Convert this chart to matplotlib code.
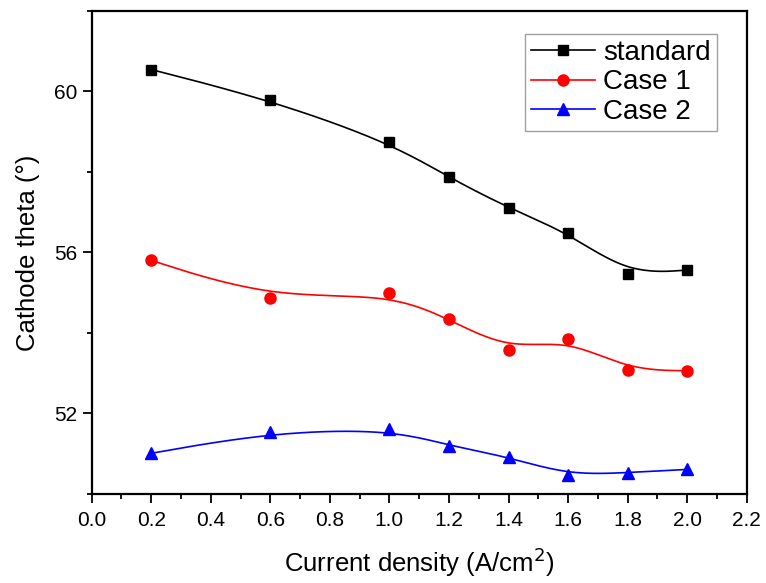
import matplotlib
matplotlib.use("Agg")
import matplotlib.pyplot as plt
import numpy as np

plt.rcParams['font.family'] = ['Liberation Sans', 'DejaVu Sans']

current = [0.2, 0.6, 1.0, 1.2, 1.4, 1.6, 1.8, 2.0]
standard = [60.54, 59.78, 58.73, 57.86, 57.10, 56.49, 55.46, 55.56]
case1 = [55.80, 54.86, 54.98, 54.34, 53.58, 53.85, 53.08, 53.06]
case2 = [51.01, 51.53, 51.61, 51.20, 50.92, 50.47, 50.53, 50.61]


def bspline(x, y, n=40):
    # uniform cubic B-spline, endpoints repeated so the curve starts/ends on them
    px = np.concatenate([[x[0]] * 2, x, [x[-1]] * 2])
    py = np.concatenate([[y[0]] * 2, y, [y[-1]] * 2])
    t = np.linspace(0, 1, n)
    b0 = (1 - t) ** 3 / 6
    b1 = (3 * t ** 3 - 6 * t ** 2 + 4) / 6
    b2 = (-3 * t ** 3 + 3 * t ** 2 + 3 * t + 1) / 6
    b3 = t ** 3 / 6
    xs, ys = [], []
    for i in range(len(px) - 3):
        xs.append(b0 * px[i] + b1 * px[i + 1] + b2 * px[i + 2] + b3 * px[i + 3])
        ys.append(b0 * py[i] + b1 * py[i + 1] + b2 * py[i + 2] + b3 * py[i + 3])
    return np.concatenate(xs), np.concatenate(ys)


fig = plt.figure(figsize=(7.66, 5.83), dpi=100)
ax = fig.add_axes([0.1197, 0.1527, 0.8551, 0.8289])

series = [
    (standard, 'black', 's', 7.5, 'standard'),
    (case1, 'red', 'o', 8, 'Case 1'),
    (case2, 'blue', '^', 9, 'Case 2'),
]
handles = []
for vals, col, mk, ms, lab in series:
    sx, sy = bspline(np.array(current), np.array(vals))
    ax.plot(sx, sy, color=col, lw=1.2)
    ax.plot(current, vals, linestyle='none', marker=mk, color=col, markersize=ms)
    h, = ax.plot([], [], color=col, lw=1.2, marker=mk, markersize=ms, label=lab)
    handles.append(h)

ax.set_xlim(0.0, 2.2)
ax.set_ylim(50, 62)
ax.set_xticks(np.arange(0, 2.21, 0.2))
ax.set_xticks(np.arange(0.1, 2.2, 0.2), minor=True)
ax.set_yticks([52, 56, 60])
ax.set_yticks([50, 54, 58, 62], minor=True)
ax.xaxis.set_major_formatter(matplotlib.ticker.FormatStrFormatter('%.1f'))
ax.tick_params(which='major', direction='out', length=6.5, width=1.3, labelsize=15,
               top=False, right=False)
ax.tick_params(axis='x', which='major', pad=6)
ax.tick_params(axis='y', which='major', pad=4)
ax.tick_params(which='minor', direction='out', length=3.8, width=1.3,
               top=False, right=False)
for sp in ax.spines.values():
    sp.set_linewidth(1.6)

ax.set_xlabel('Current density (A/cm$^2$)', fontsize=18.5, labelpad=11)
ax.set_ylabel('Cathode theta (°)', fontsize=18.5, labelpad=10)

leg = ax.legend(handles=handles, loc='upper right', fontsize=20, frameon=True,
                fancybox=False, edgecolor='#888888', handlelength=2.3,
                handletextpad=0.3, borderpad=0.22, labelspacing=0.12,
                borderaxespad=0, bbox_to_anchor=(0.955, 0.952))
leg.get_frame().set_linewidth(1.0)

fig.savefig('out.png', dpi=100)
